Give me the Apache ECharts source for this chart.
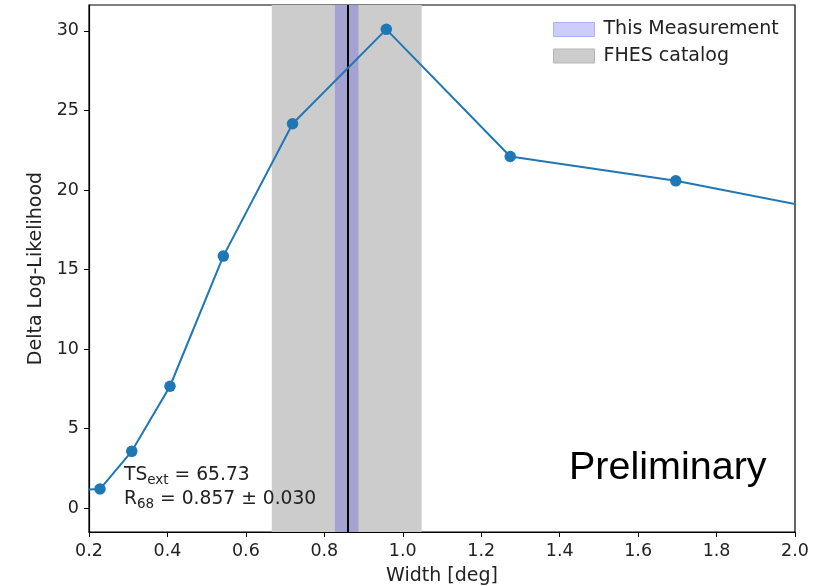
<!DOCTYPE html>
<html>
<head>
<meta charset="utf-8">
<script src="https://cdn.jsdelivr.net/npm/echarts@6/dist/echarts.min.js"></script>
<style>
html,body{margin:0;padding:0;background:#fff;}
#chart{width:837px;height:586px;}
</style>
</head>
<body>
<div id="chart"></div>
<script>
// Data
var widths = [0.171, 0.228, 0.309, 0.4065, 0.5425, 0.719, 0.958, 1.274, 1.696, 2.256];
var deltaLogL = [1.17, 1.21, 3.58, 7.67, 15.85, 24.17, 30.10, 22.11, 20.58, 17.9];
var fhesBand = [0.666, 1.048];
var measBand = [0.827, 0.887];
var r68 = 0.857;
var xTicks = [0.2, 0.4, 0.6, 0.8, 1.0, 1.2, 1.4, 1.6, 1.8, 2.0];
var yTicks = [0, 5, 10, 15, 20, 25, 30];
var xRange = [0.2, 2.0];
var yRange = [-1.49, 31.63];

var points = widths.map(function (w, i) { return [w, deltaLogL[i]]; });

var txt = '#222';
var font = 'DejaVu Sans';

var chart = echarts.init(document.getElementById('chart'), null, {renderer: 'canvas'});
chart.setOption({
  animation: false,
  backgroundColor: '#fff',
  grid: {left: 89, right: 42, top: 5, bottom: 54, show: true, borderColor: '#000', borderWidth: 1.2,
    backgroundColor: 'transparent', containLabel: false, outerBoundsMode: 'none'},
  xAxis: {
    type: 'value', min: xRange[0], max: xRange[1],
    name: 'Width [deg]', nameLocation: 'middle', nameGap: 35,
    nameTextStyle: {fontFamily: font, fontSize: 19, color: txt},
    axisLine: {show: true, onZero: false, lineStyle: {color: '#000', width: 1.2}},
    axisTick: {show: true, length: 5, lineStyle: {color: '#000'}, customValues: xTicks},
    axisLabel: {fontFamily: font, fontSize: 17.5, color: txt, margin: 10.5, customValues: xTicks,
      formatter: function (v) { return v.toFixed(1); }},
    splitLine: {show: false}
  },
  yAxis: {
    type: 'value', min: yRange[0], max: yRange[1],
    name: 'Delta Log-Likelihood', nameLocation: 'middle', nameGap: 43, nameRotate: 90,
    nameTextStyle: {fontFamily: font, fontSize: 19, color: txt},
    axisLine: {show: true, onZero: false, lineStyle: {color: '#000', width: 1.2}},
    axisTick: {show: true, length: 5, lineStyle: {color: '#000'}, customValues: yTicks},
    axisLabel: {fontFamily: font, fontSize: 17.5, color: txt, margin: 10, customValues: yTicks,
      formatter: function (v) { return String(Math.round(v)); }},
    splitLine: {show: false}
  },
  legend: {
    orient: 'vertical', left: 548, top: 15, itemWidth: 41, itemHeight: 14, itemGap: 7.5,
    icon: 'rect',
    textStyle: {fontFamily: font, fontSize: 19, color: txt, padding: [0, 0, 0, 4]},
    data: [
      {name: 'This Measurement', itemStyle: {color: '#ccccff', borderColor: '#b0b0f5', borderWidth: 1}},
      {name: 'FHES catalog', itemStyle: {color: '#cccccc', borderColor: '#b5b5b5', borderWidth: 1}}
    ]
  },
  series: [
    {
      name: 'FHES catalog', type: 'line', data: [], z: 1,
      itemStyle: {color: '#cccccc'},
      markArea: {silent: true, itemStyle: {color: '#cccccc'},
        data: [[{xAxis: fhesBand[0]}, {xAxis: fhesBand[1]}]]}
    },
    {
      name: 'This Measurement', type: 'line', data: [], z: 2,
      itemStyle: {color: '#ccccff'},
      markArea: {silent: true, itemStyle: {color: '#a3a2d0'},
        data: [[{xAxis: measBand[0]}, {xAxis: measBand[1]}]]},
      markLine: {silent: true, symbol: 'none', label: {show: false},
        lineStyle: {color: '#000', width: 2, type: 'solid'},
        data: [{xAxis: r68}]}
    },
    {
      name: 'Delta', type: 'line', data: points, clip: true, z: 5,
      symbol: 'circle', symbolSize: 11.5, showSymbol: true,
      lineStyle: {color: '#1f77b4', width: 2},
      itemStyle: {color: '#1f77b4'}
    }
  ],
  graphic: [
    {type: 'text', left: 124, top: 466, z: 10, style: {
      text: '{a|TS}{b|ext}{a| = 65.73}',
      rich: {
        a: {fontFamily: font, fontSize: 18.7, fill: txt, lineHeight: 23},
        b: {fontFamily: font, fontSize: 13.5, fill: txt, lineHeight: 23, verticalAlign: 'bottom', padding: [6, 0, 0, 0]}
      }}},
    {type: 'text', left: 124, top: 490, z: 10, style: {
      text: '{a|R}{b|68}{a| = 0.857 ± 0.030}',
      rich: {
        a: {fontFamily: font, fontSize: 18.7, fill: txt, lineHeight: 23},
        b: {fontFamily: font, fontSize: 13.5, fill: txt, lineHeight: 23, verticalAlign: 'bottom', padding: [6, 0, 0, 0]}
      }}},
    {type: 'text', left: 569, top: 448, z: 10, style: {
      text: 'Preliminary', fontFamily: 'Liberation Sans', fontSize: 39.5, fill: '#000'}}
  ]
});
</script>
</body>
</html>
